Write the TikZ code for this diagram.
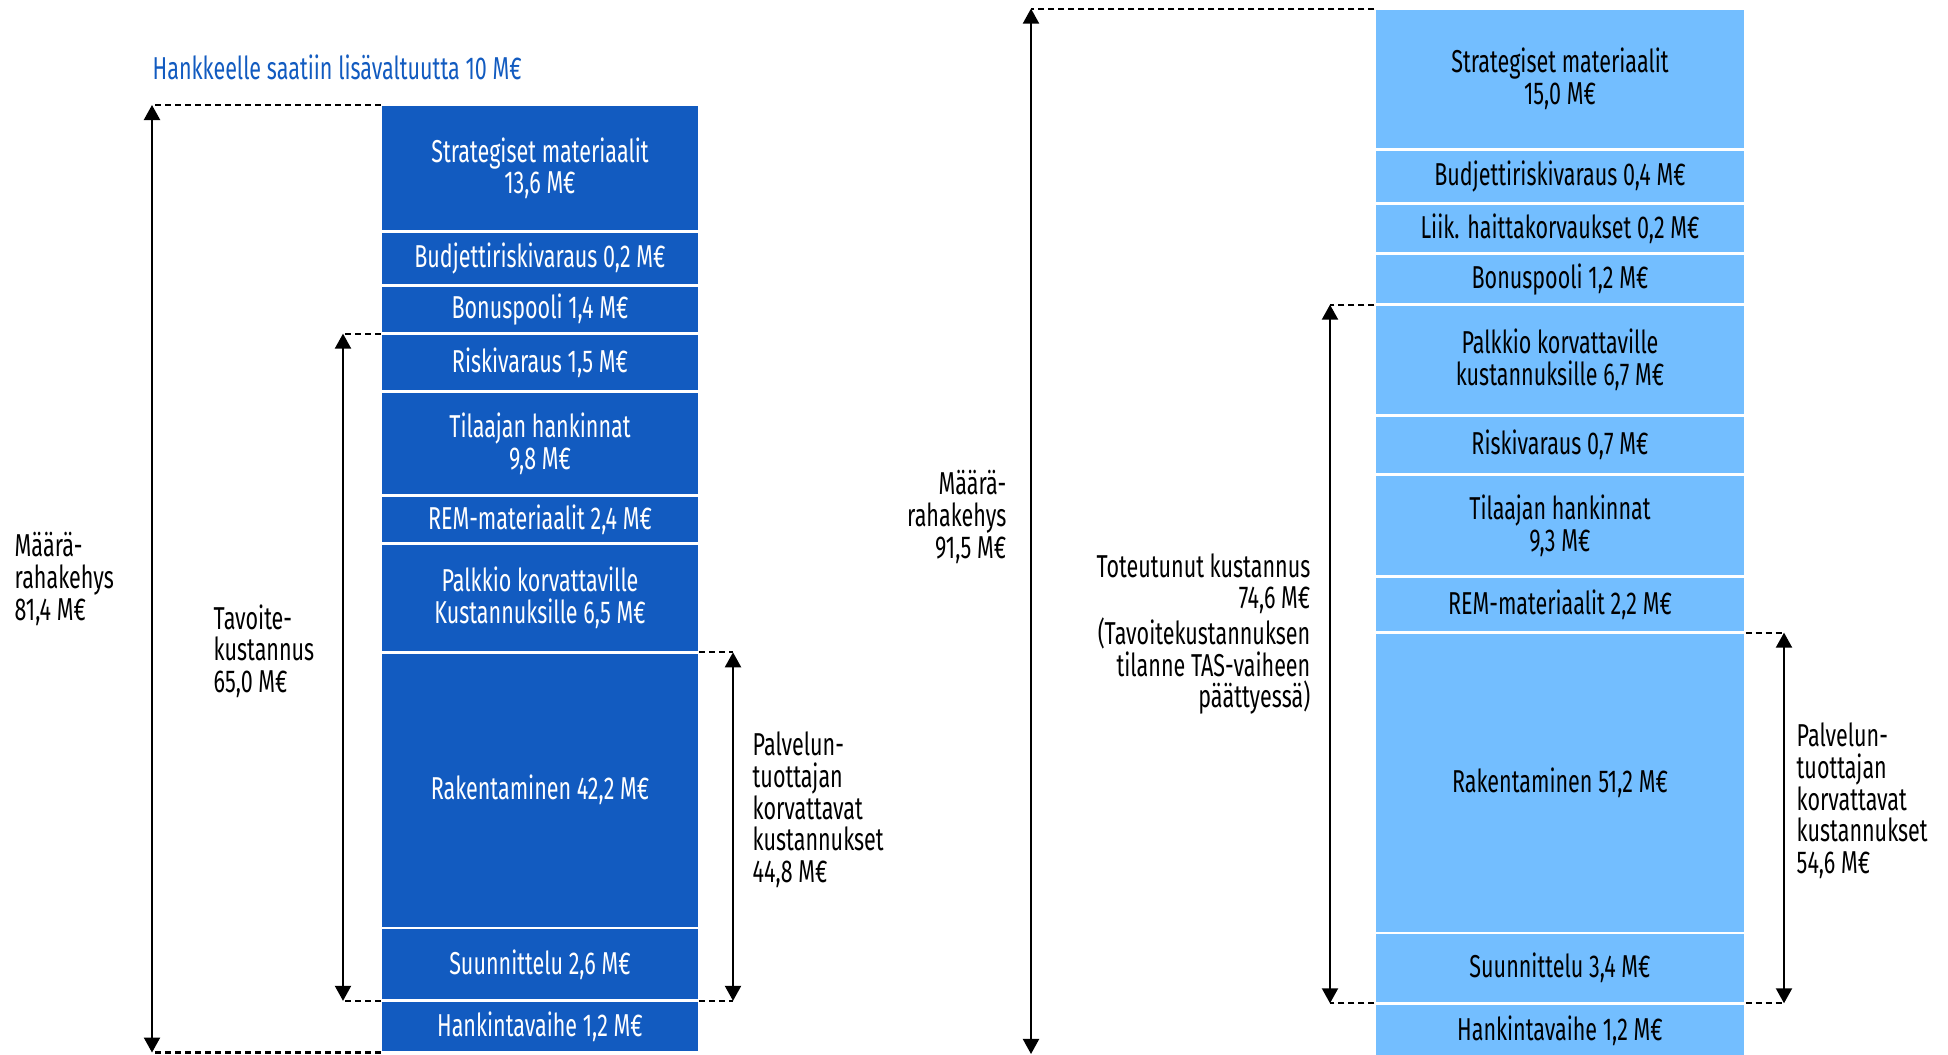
\documentclass[tikz,border=0pt]{standalone}
\usepackage{fontspec}
\setmainfont[FakeStretch=0.68]{Fira Sans}
\usetikzlibrary{arrows.meta,positioning}
\definecolor{darkblue}{RGB}{18,91,192}
\definecolor{lightblue}{RGB}{115,190,255}
\newcommand\labelfont{\fontsize{9}{9}\selectfont}

\tikzset{
  box/.style={draw=white, line width=0.8pt, inner sep=0pt, outer sep=0pt, align=center},
  lbox/.style={box, fill=darkblue, text=white, minimum width=3.18cm},
  rbox/.style={box, fill=lightblue, text=black, minimum width=3.71cm},
  dim/.style={{Triangle[length=1.5mm,width=1.6mm]}-{Triangle[length=1.5mm,width=1.6mm]}, line width=0.6pt},
  guide/.style={dash pattern=on 0.6mm off 0.4mm, line width=0.6pt},
  lbl/.style={inner sep=0pt}
}

\begin{document}
\begin{tikzpicture}[x=0.01cm, y=-0.01cm, every node/.style={font=\labelfont}]
		%%%%% START %%%%%
		\useasboundingbox (0,0) rectangle (1948,1055);
		
		% left column
		\node[lbl, anchor=west, text=darkblue] (title) at (152,67) {Hankkeelle saatiin lisävaltuutta 10 M€};
		
		\node[lbox, minimum height=1.267cm, anchor=north] (ls1) at (540,105) {Strategiset materiaalit\\13,6 M€};
		\node[lbox, minimum height=0.533cm, below=0pt of ls1] (ls2) {Budjettiriskivaraus 0,2 M€};
		\node[lbox, minimum height=0.485cm, below=0pt of ls2] (ls3) {Bonuspooli 1,4 M€};
		\node[lbox, minimum height=0.582cm, below=0pt of ls3] (ls4) {Riskivaraus 1,5 M€};
		\node[lbox, minimum height=1.033cm, below=0pt of ls4] (ls5) {Tilaajan hankinnat\\9,8 M€};
		\node[lbox, minimum height=0.483cm, below=0pt of ls5] (ls6) {REM-materiaalit 2,4 M€};
		\node[lbox, minimum height=1.087cm, below=0pt of ls6] (ls7) {Palkkio korvattaville\\Kustannuksille 6,5 M€};
		\node[lbox, minimum height=2.755cm, below=0pt of ls7] (ls8) {Rakentaminen 42,2 M€};
		\node[lbox, minimum height=0.728cm, below=0pt of ls8] (ls9) {Suunnittelu 2,6 M€};
		\node[lbox, minimum height=0.517cm, below=0pt of ls9] (ls10) {Hankintavaihe 1,2 M€};
		
		\coordinate (lmx) at (152,0);
		\coordinate (ltx) at (343,0);
		\coordinate (lpx) at (733,0);
		
		\draw[guide] (ls1.north west) -- (ls1.north west -| lmx);
		\draw[guide] (ls10.south west) -- (ls10.south west -| lmx);
		\draw[dim] (ls1.north west -| lmx) -- (ls10.south west -| lmx);
		
		\draw[guide] (ls4.north west) -- (ls4.north west -| ltx);
		\draw[guide] (ls9.south west) -- (ls9.south west -| ltx);
		\draw[dim] (ls4.north west -| ltx) -- (ls9.south west -| ltx);
		
		\draw[guide] (ls8.north east) -- (ls8.north east -| lpx);
		\draw[guide] (ls9.south east) -- (ls9.south east -| lpx);
		\draw[dim] (ls8.north east -| lpx) -- (ls9.south east -| lpx);
		
		\node[lbl, anchor=west, align=left] (lmlab) at (14,579) {Määrä-\\rahakehys\\81,4 M€};
		\node[lbl, anchor=west, align=left] (ltlab) at (213,651) {Tavoite-\\kustannus\\65,0 M€};
		\node[lbl, anchor=west, align=left] (lplab) at (752,810) {Palvelun-\\tuottajan\\korvattavat\\kustannukset\\44,8 M€};
		
		% right column
		\node[rbox, minimum height=1.407cm, anchor=north] (rs1) at (1560,8.6) {Strategiset materiaalit\\15,0 M€};
		\node[rbox, minimum height=0.542cm, below=0pt of rs1] (rs2) {Budjettiriskivaraus 0,4 M€};
		\node[rbox, minimum height=0.500cm, below=0pt of rs2] (rs3) {Liik. haittakorvaukset 0,2 M€};
		\node[rbox, minimum height=0.510cm, below=0pt of rs3] (rs4) {Bonuspooli 1,2 M€};
		\node[rbox, minimum height=1.105cm, below=0pt of rs4] (rs5) {Palkkio korvattaville\\kustannuksille 6,7 M€};
		\node[rbox, minimum height=0.595cm, below=0pt of rs5] (rs6) {Riskivaraus 0,7 M€};
		\node[rbox, minimum height=1.018cm, below=0pt of rs6] (rs7) {Tilaajan hankinnat\\9,3 M€};
		\node[rbox, minimum height=0.560cm, below=0pt of rs7] (rs8) {REM-materiaalit 2,2 M€};
		\node[rbox, minimum height=3.002cm, below=0pt of rs8] (rs9) {Rakentaminen 51,2 M€};
		\node[rbox, minimum height=0.702cm, below=0pt of rs9] (rs10) {Suunnittelu 3,4 M€};
		\node[rbox, minimum height=0.543cm, below=0pt of rs10] (rs11) {Hankintavaihe 1,2 M€};
		
		\coordinate (rmx) at (1031,0);
		\coordinate (rmb) at (1031,1054);
		\coordinate (rtx) at (1330,0);
		\coordinate (rpx) at (1784,0);
		
		\draw[guide] (rs1.north west) -- (rs1.north west -| rmx);
		\draw[dim] (rs1.north west -| rmx) -- (rmb);
		
		\draw[guide] (rs5.north west) -- (rs5.north west -| rtx);
		\draw[guide] (rs10.south west) -- (rs10.south west -| rtx);
		\draw[dim] (rs5.north west -| rtx) -- (rs10.south west -| rtx);
		
		\draw[guide] (rs9.north east) -- (rs9.north east -| rpx);
		\draw[guide] (rs10.south east) -- (rs10.south east -| rpx);
		\draw[dim] (rs9.north east -| rpx) -- (rs10.south east -| rpx);
		
		\node[lbl, anchor=east, align=right] (rmlab) at (1007,517) {Määrä-\\rahakehys\\91,5 M€};
		\node[lbl, anchor=east, align=right] (rtlab) at (1311,634) {Toteutunut kustannus\\74,6 M€\\(Tavoitekustannuksen\\tilanne TAS-vaiheen\\päättyessä)};
		\node[lbl, anchor=west, align=left] (rplab) at (1796,801) {Palvelun-\\tuottajan\\korvattavat\\kustannukset\\54,6 M€};
		
		%%%%% END %%%%%
\end{tikzpicture}
\end{document}
